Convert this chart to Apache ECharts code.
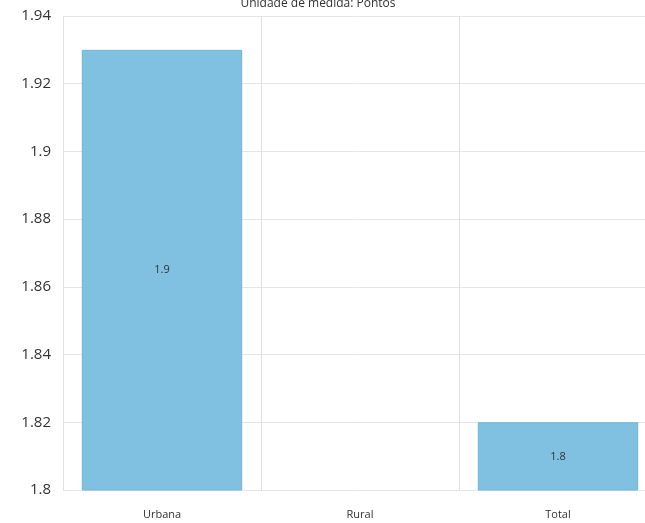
<!DOCTYPE html>
<html><head><meta charset="utf-8">
<script src="https://cdn.jsdelivr.net/npm/echarts@6/dist/echarts.min.js"></script>
<style>html,body{margin:0;padding:0;background:#fff;overflow:hidden}#c{width:645px;height:523px}</style>
</head><body><div id="c"></div>
<script>
var categories = ["Urbana", "Rural", "Total"];
var values = [1.93, null, 1.82];
var labels = ["1.9", "", "1.8"];
var titleText = "Unidade de medida: Pontos";

var chart = echarts.init(document.getElementById('c'), null, {renderer: 'canvas'});
chart.setOption({
  animation: false,
  backgroundColor: '#fff',
  title: {text: titleText, left: 313, textAlign: 'center', top: -7,
    textStyle: {fontSize: 12, fontWeight: 'normal', color: '#333', fontFamily: 'Open Sans'}},
  grid: {left: 63, right: -12, top: 16, bottom: 33, containLabel: false, outerBoundsMode: 'none'},
  xAxis: {type: 'category', data: categories,
    axisLine: {show: false}, axisTick: {show: false},
    splitLine: {show: true, lineStyle: {color: '#e0e0e0'}},
    axisLabel: {fontSize: 11, color: '#333', margin: 19, fontFamily: 'Open Sans'}},
  yAxis: {type: 'value', min: 1.8, max: 1.94, interval: 0.02,
    axisLine: {show: false}, axisTick: {show: false},
    splitLine: {lineStyle: {color: '#e6e6e6'}},
    axisLabel: {fontSize: 15, color: '#333', margin: 12, fontFamily: 'Open Sans',
      formatter: function(v){ return String(parseFloat(v.toFixed(2))); }}},
  series: [{type: 'bar', data: values, barCategoryGap: '19%',
    itemStyle: {color: '#80c1e2', borderColor: '#6fb3d6', borderWidth: 1},
    label: {show: true, position: 'inside', fontSize: 11, color: '#333', fontFamily: 'Open Sans',
      formatter: function(p){ return labels[p.dataIndex]; }}}]
});
</script></body></html>
